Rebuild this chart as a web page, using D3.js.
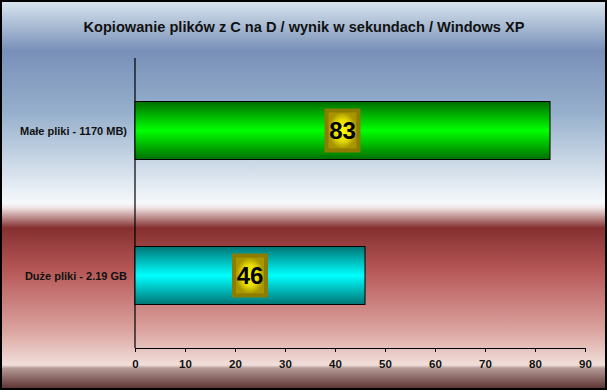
<!DOCTYPE html>
<html>
<head>
<meta charset="UTF-8" />
<title>Kopiowanie plików</title>
<script src="https://cdn.jsdelivr.net/npm/d3@7"></script>
<style>
  body { margin: 0; background: #fff; }
  svg { display: block; font-family: Arial, "Liberation Sans", sans-serif; }
</style>
</head>
<body>
<div id="chart"></div>
<script>
const categories = ['Małe pliki - 1170 MB)', 'Duże pliki - 2.19 GB'];
const values = [83, 46];
const xTicks = [0, 10, 20, 30, 40, 50, 60, 70, 80, 90];
const title = 'Kopiowanie plików z C na D / wynik w sekundach / Windows XP';

const w = 607, h = 390;
const svg = d3.select('#chart').append('svg').attr('width', w).attr('height', h);
const defs = svg.append('defs');

// background gradient (blue top, red bottom, dark footer)
const bg = defs.append('linearGradient').attr('id', 'bg')
  .attr('x1', 0).attr('y1', 0).attr('x2', 0).attr('y2', 1);
[[0, '#dae6ef'], [50, '#7890b8'], [110, '#94aecb'], [203, '#f6f9fc'],
 [208, '#efe2e2'], [228, '#853030'], [270, '#b65656'], [330, '#daa29e'],
 [366, '#f1dfda'], [369, '#b49a96'], [390, '#5a3030']]
  .forEach(([y, c]) => bg.append('stop').attr('offset', y / h).attr('stop-color', c));

function barGrad(id, edge, mid) {
  const g = defs.append('linearGradient').attr('id', id)
    .attr('x1', 0).attr('y1', 0).attr('x2', 0).attr('y2', 1);
  g.append('stop').attr('offset', 0).attr('stop-color', edge);
  g.append('stop').attr('offset', 0.5).attr('stop-color', mid);
  g.append('stop').attr('offset', 1).attr('stop-color', edge);
}
barGrad('g0', '#006e00', '#00ff00');
barGrad('g1', '#007474', '#00ffff');

const lab = defs.append('radialGradient').attr('id', 'lab');
lab.append('stop').attr('offset', 0).attr('stop-color', '#ffff00');
lab.append('stop').attr('offset', 0.6).attr('stop-color', '#e6dc00');
lab.append('stop').attr('offset', 1).attr('stop-color', '#a89600');

svg.append('rect').attr('x', 1).attr('y', 1).attr('width', w - 2).attr('height', h - 2)
  .attr('fill', 'url(#bg)').attr('stroke', '#000').attr('stroke-width', 2);

svg.append('text').attr('x', 304).attr('y', 32).attr('text-anchor', 'middle')
  .attr('font-size', 14.6).attr('font-weight', 'bold').attr('fill', '#111').text(title);

const x = d3.scaleLinear().domain([0, 90]).range([135, 585]);
const y = d3.scaleBand().domain(categories).range([58, 348])
  .paddingInner(0.6).paddingOuter(0.3);

// x axis
const xAxis = svg.append('g').attr('transform', 'translate(0,348)')
  .call(d3.axisBottom(x).tickValues(xTicks).tickSize(4).tickPadding(8));
xAxis.select('.domain').attr('stroke', '#000');
xAxis.selectAll('.tick line').attr('stroke', '#000');
xAxis.selectAll('text').attr('font-size', 11.5).attr('font-weight', 'bold')
  .attr('font-family', 'Arial, "Liberation Sans", sans-serif').attr('fill', '#111');

// y axis line
svg.append('line').attr('x1', x(0)).attr('x2', x(0)).attr('y1', 58).attr('y2', 348)
  .attr('stroke', '#000').attr('stroke-width', 1.2);

// category labels
svg.selectAll('.cat').data(categories).enter().append('text')
  .attr('class', 'cat').attr('x', 127).attr('y', d => y(d) + y.bandwidth() / 2 + 4)
  .attr('text-anchor', 'end').attr('font-size', 11).attr('font-weight', 'bold')
  .attr('fill', '#111').text(d => d);

// bars
svg.selectAll('.bar').data(values).enter().append('rect')
  .attr('class', 'bar')
  .attr('x', x(0)).attr('y', (d, i) => y(categories[i]))
  .attr('width', d => x(d) - x(0)).attr('height', y.bandwidth())
  .attr('fill', (d, i) => `url(#g${i})`).attr('stroke', '#000').attr('stroke-width', 1);

// value labels
const lb = svg.selectAll('.lbl').data(values).enter().append('g')
  .attr('transform', (d, i) => `translate(${x(d / 2)},${y(categories[i]) + y.bandwidth() / 2})`);
lb.append('rect').attr('x', -18).attr('y', -22).attr('width', 36).attr('height', 44)
  .attr('fill', '#8c7c00');
lb.append('rect').attr('x', -14).attr('y', -18).attr('width', 28).attr('height', 36)
  .attr('fill', 'url(#lab)');
lb.append('text').attr('text-anchor', 'middle').attr('y', 8.5)
  .attr('font-size', 24).attr('font-weight', 'bold').attr('fill', '#000').text(d => d);
</script>
</body>
</html>
